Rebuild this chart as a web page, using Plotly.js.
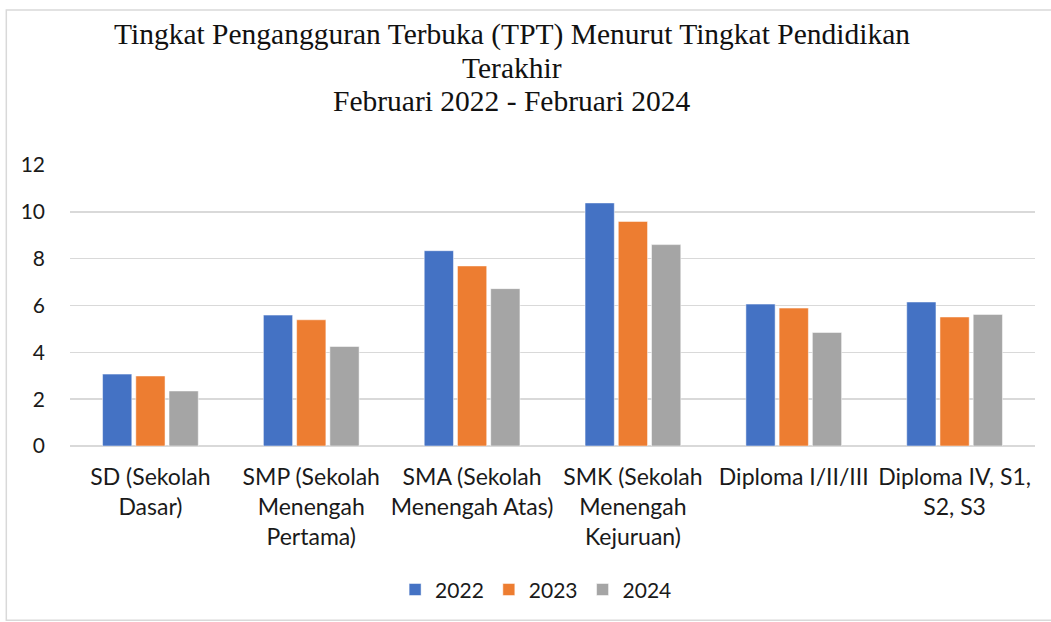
<!DOCTYPE html>
<html>
<head>
<meta charset="utf-8">
<script src="https://cdn.plot.ly/plotly-3.0.1.min.js"></script>
<style>html,body{margin:0;padding:0;background:#fff;}#chart{width:1051px;height:622px;}</style>
</head>
<body>
<div id="chart"></div>
<script>
const categories = [
  "SD (Sekolah<br>Dasar)",
  "SMP (Sekolah<br>Menengah<br>Pertama)",
  "SMA (Sekolah<br>Menengah Atas)",
  "SMK (Sekolah<br>Menengah<br>Kejuruan)",
  "Diploma I/II/III",
  "Diploma IV, S1,<br>S2, S3"
];
const seriesNames = ["2022", "2023", "2024"];
const values2022 = [3.07, 5.59, 8.34, 10.38, 6.06, 6.15];
const values2023 = [2.99, 5.39, 7.69, 9.59, 5.89, 5.51];
const values2024 = [2.35, 4.25, 6.72, 8.60, 4.85, 5.62];
const colors = ["#4472C4", "#ED7D31", "#A5A5A5"];
const tickVals = [0, 2, 4, 6, 8, 10, 12];
const titleLines = [
  "Tingkat Pengangguran Terbuka (TPT) Menurut Tingkat Pendidikan",
  "Terakhir",
  "Februari 2022 - Februari 2024"
];

const allValues = [values2022, values2023, values2024];
const traces = allValues.map((v, i) => ({
  type: "bar",
  name: seriesNames[i],
  x: categories,
  y: v,
  marker: {color: colors[i], line: {color: "#ffffff", width: 0.5}},
  hoverinfo: "y+name"
}));

const titleFont = {family: "Liberation Serif, Times New Roman, serif", size: 29.5, color: "#111111"};
const titleY = [35, 68, 101];

const layout = {
  width: 1051,
  height: 622,
  paper_bgcolor: "#ffffff",
  plot_bgcolor: "#ffffff",
  margin: {l: 70, r: 16, t: 165, b: 176},
  barmode: "group",
  bargap: 0.38,
  bargroupgap: 0.12,
  font: {family: "Lato, Open Sans, sans-serif", size: 21, color: "#1a1a1a"},
  xaxis: {
    type: "category",
    showgrid: false,
    showline: false,
    zeroline: false,
    ticks: "",
    ticklabelstandoff: 15,
    tickfont: {size: 23, color: "#1a1a1a"},
    automargin: false
  },
  yaxis: {
    range: [0, 12],
    tickvals: tickVals,
    ticktext: tickVals.map(String),
    showgrid: true,
    gridcolor: "#d9d9d9",
    gridwidth: 1.5,
    zeroline: true,
    zerolinecolor: "#d9d9d9",
    zerolinewidth: 1.5,
    showline: false,
    ticks: "",
    ticklabelstandoff: 24,
    tickfont: {size: 21, color: "#1a1a1a"},
    automargin: false
  },
  legend: {
    orientation: "h",
    x: 0.483, xanchor: "center",
    y: -0.512, yanchor: "middle",
    font: {size: 21, color: "#1a1a1a"},
    itemwidth: 30,
    traceorder: "normal"
  },
  annotations: titleLines.map((t, i) => ({
    text: t,
    xref: "paper", yref: "paper",
    x: 0.458, xanchor: "center",
    y: 1 + (165 - titleY[i]) / 281, yanchor: "middle",
    showarrow: false,
    font: titleFont
  })),
  shapes: [{
    type: "rect", xref: "paper", yref: "paper",
    x0: -0.066, x1: 1.05, y0: -0.62, y1: 1 + (165 - 10) / 281,
    line: {color: "#d9d9d9", width: 1.5},
    fillcolor: "rgba(0,0,0,0)",
    layer: "below"
  }]
};

Plotly.newPlot("chart", traces, layout, {displayModeBar: false, staticPlot: true});
</script>
</body>
</html>
